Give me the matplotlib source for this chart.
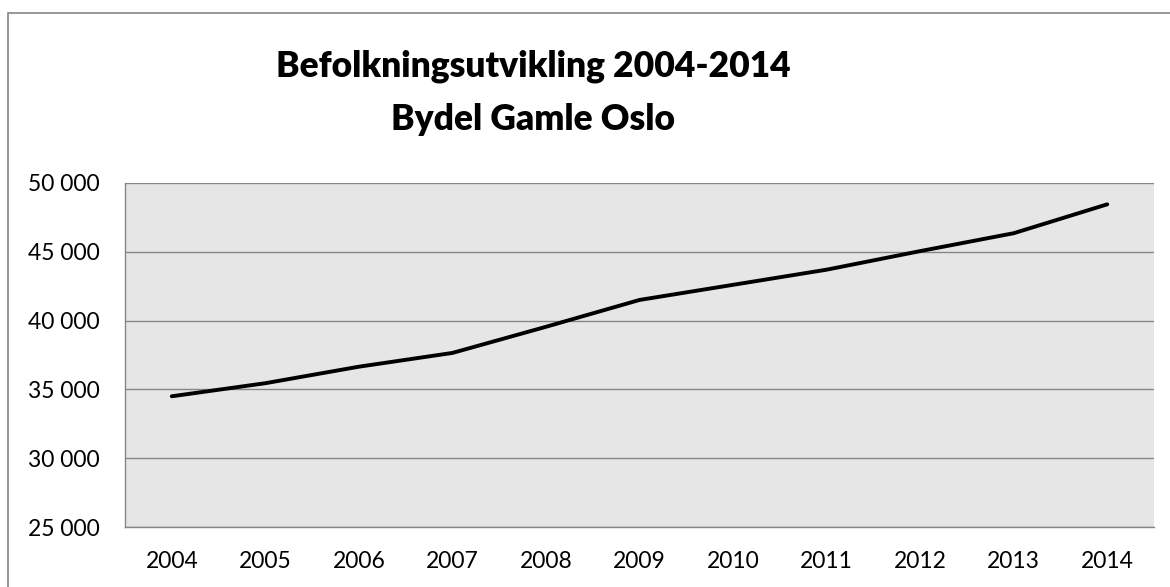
from matplotlib import pyplot as plt, rcParams
from matplotlib.patches import Rectangle
from matplotlib.ticker import FuncFormatter

years = ['2004', '2005', '2006', '2007', '2008', '2009',
         '2010', '2011', '2012', '2013', '2014']
population = [34500, 35450, 36650, 37650, 39550, 41500,
              42600, 43700, 45050, 46350, 48450]
y_ticks = [25000, 30000, 35000, 40000, 45000, 50000]

rcParams['font.family'] = ['Lato', 'DejaVu Sans']

fig = plt.figure(figsize=(11.7, 5.87), dpi=100)

# ramme rundt diagrammet
fig.patches.append(Rectangle(
    (8 / 1170, -0.1), 1.2, 1.1 - 13 / 587,
    transform=fig.transFigure, fill=False, edgecolor='#868686', linewidth=1.2,
))

ax = fig.add_axes([125 / 1170, 1 - 527 / 587, 1029 / 1170, 344 / 587])
ax.set_facecolor('#e6e6e6')

x = range(len(years))
ax.plot(x, population, color='black', linewidth=2.8, solid_capstyle='round', zorder=3)

ax.set_xlim(-0.5, len(years) - 0.5)
ax.set_ylim(y_ticks[0], y_ticks[-1])
ax.set_xticks(list(x))
ax.set_xticklabels(years)
ax.set_yticks(y_ticks)
ax.yaxis.set_major_formatter(FuncFormatter(lambda v, _: f'{int(v):,}'.replace(',', ' ')))

ax.grid(axis='y', color='#868686', linewidth=1.0)
ax.set_axisbelow(True)
for side in ['top', 'right']:
    ax.spines[side].set_visible(False)
for side in ['left', 'bottom']:
    ax.spines[side].set_color('#868686')
    ax.spines[side].set_linewidth(1.0)

ax.tick_params(axis='both', length=0, labelsize=16.5, colors='black')
ax.tick_params(axis='y', pad=18)
ax.tick_params(axis='x', pad=17)

fig.text(533 / 1170, 1 - 66 / 587, 'Befolkningsutvikling 2004-2014',
         ha='center', va='center', fontsize=25.5, fontweight='heavy')
fig.text(533 / 1170, 1 - 120 / 587, 'Bydel Gamle Oslo',
         ha='center', va='center', fontsize=25.5, fontweight='heavy')

fig.savefig('out.png', dpi=100, facecolor='white')
